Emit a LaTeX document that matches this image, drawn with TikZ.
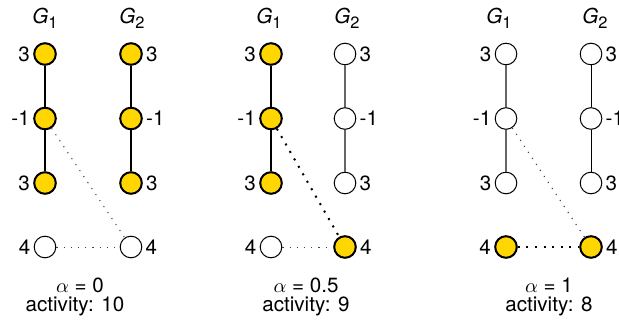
\documentclass[tikz,border=0pt]{standalone}
\usepackage{fontspec}
\setmainfont{TeX Gyre Heros}
\definecolor{actfill}{RGB}{255,214,0}

\newcommand{\gname}[1]{\textit{G}\raisebox{-2.6pt}{\fontsize{8.2}{9}\selectfont #1}}

\begin{document}
\begin{tikzpicture}[
            x=.5pt, y=-.5pt,
            vtx/.style={circle, draw, line width=.5pt, fill=white,
                inner sep=0pt, minimum size=10.8pt},
            act/.style={vtx, fill=actfill, line width=1pt},
            lbl/.style={font=\fontsize{10.3}{12}\selectfont, inner sep=0pt},
            strong/.style={line width=1pt},
            weak/.style={line width=.8pt, draw=black!60},
            plain/.style={line width=.5pt},
            faint/.style={line width=.5pt, draw=black!75, dash pattern=on .6pt off 3pt},
            bold/.style={line width=1pt, dash pattern=on 1pt off 3.3pt},
        ]
            \useasboundingbox (0, 0) rectangle (619, 325);

            %% alpha = 0: both graphs active
            \node[lbl] (t1a) at (45, 18) {\gname{1}};
            \node[lbl] (t1b) at (132, 18) {\gname{2}};
            \foreach \r/\v in {1/3, 2/-1, 3/3}{
                \node[act, label={[lbl, label distance=1.5pt]left:\v}] (a\r) at (45, {54+64.5*(\r-1)}) {};
                \node[act, label={[lbl, label distance=1.5pt]right:\v}] (b\r) at (131, {54+64.5*(\r-1)}) {};
            }
            \node[vtx, label={[lbl, label distance=1.5pt]left:4}] (a4) at (45, 247) {};
            \node[vtx, label={[lbl, label distance=1.5pt]right:4}] (b4) at (131, 247) {};
            \draw[strong] (a1) -- (a2) -- (a3);
            \draw[strong] (b1) -- (b2) -- (b3);
            \draw[faint] (a2) -- (b4);
            \draw[faint] (a4) -- (b4);
            \node[lbl] (al1) at (80, 285) {$\alpha$ = 0};
            \node[lbl] (ac1) at (75, 306) {activity: 10};

            %% alpha = 0.5
            \node[lbl] (t2a) at (269, 18) {\gname{1}};
            \node[lbl] (t2b) at (347, 18) {\gname{2}};
            \foreach \r/\v in {1/3, 2/-1, 3/3}{
                \node[act, label={[lbl, label distance=1.5pt]left:\v}] (c\r) at (271, {54+64.5*(\r-1)}) {};
                \node[vtx, label={[lbl, label distance=1.5pt]right:\v}] (d\r) at (345, {54+64.5*(\r-1)}) {};
            }
            \node[vtx, label={[lbl, label distance=1.5pt]left:4}] (c4) at (271, 247) {};
            \node[act, label={[lbl, label distance=1.5pt]right:4}] (d4) at (345, 247) {};
            \draw[strong] (c1) -- (c2) -- (c3);
            \draw[weak] (d1) -- (d2) -- (d3);
            \draw[bold] (c2) -- (d4);
            \draw[faint] (c4) -- (d4);
            \node[lbl] (al2) at (306, 285) {$\alpha$ = 0.5};
            \node[lbl] (ac2) at (306, 306) {activity: 9};

            %% alpha = 1: only the bottom pair
            \node[lbl] (t3a) at (499, 18) {\gname{1}};
            \node[lbl] (t3b) at (595, 18) {\gname{2}};
            \foreach \r/\v in {1/3, 2/-1, 3/3}{
                \node[vtx, label={[lbl, label distance=1.5pt]left:\v}] (e\r) at (506, {54+64.5*(\r-1)}) {};
                \node[vtx, label={[lbl, label distance=1.5pt]right:\v}] (f\r) at (591, {54+64.5*(\r-1)}) {};
            }
            \node[act, label={[lbl, label distance=1.5pt]left:4}] (e4) at (506, 247) {};
            \node[act, label={[lbl, label distance=1.5pt]right:4}] (f4) at (591, 247) {};
            \draw[weak] (e1) -- (e2) -- (e3);
            \draw[plain] (f1) -- (f2) -- (f3);
            \draw[faint] (e2) -- (f4);
            \draw[bold] (e4) -- (f4);
            \node[lbl] (al3) at (549, 285) {$\alpha$ = 1};
            \node[lbl] (ac3) at (549, 306) {activity: 8};
        \end{tikzpicture}
\end{document}
